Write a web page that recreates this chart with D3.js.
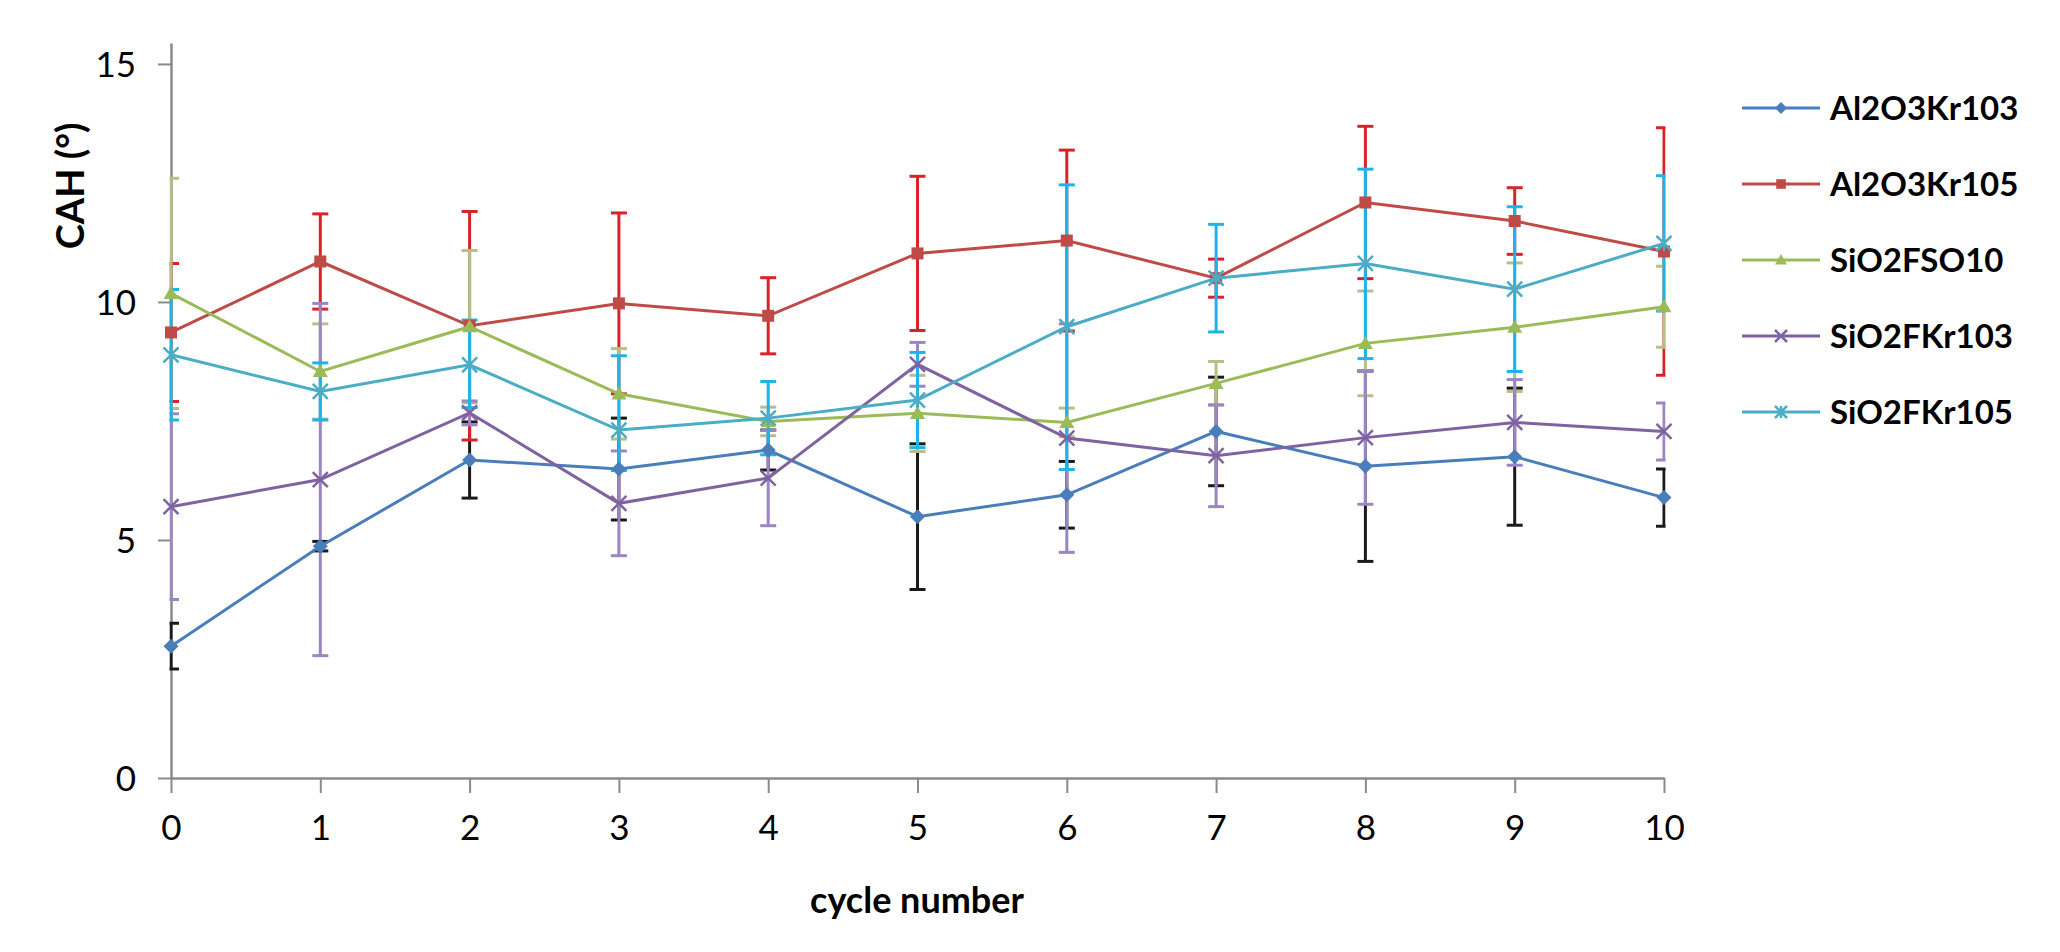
<!DOCTYPE html>
<html>
<head>
<meta charset="utf-8">
<script src="https://cdn.jsdelivr.net/npm/d3@7"></script>
<style>
  body { margin: 0; background: #fff; }
  svg { display: block; }
  text { font-family: Lato, "Noto Sans", sans-serif; fill: #000; }
</style>
</head>
<body>
<svg id="chart" width="2060" height="952"></svg>
<script>
// cycle numbers on the x axis
const cycles = [0, 1, 2, 3, 4, 5, 6, 7, 8, 9, 10];
const yTicks = [0, 5, 10, 15];

// CAH values (deg), with error bar half-widths
const al103 = [2.77, 4.87, 6.68, 6.49, 6.89, 5.49, 5.95, 7.28, 6.55, 6.75, 5.89];
const al103Err = [0.48, 0.1, 0.8, 1.07, 0.42, 1.53, 0.7, 1.14, 2.0, 1.44, 0.6];

const al105 = [9.36, 10.85, 9.5, 9.97, 9.71, 11.02, 11.29, 10.5, 12.09, 11.7, 11.06];
const al105Err = [1.45, 1.0, 2.4, 1.9, 0.8, 1.62, 1.9, 0.4, 1.6, 0.7, 2.6];

const fso10 = [10.18, 8.54, 9.48, 8.07, 7.49, 7.66, 7.47, 8.29, 9.13, 9.47, 9.9];
const fso10Err = [2.42, 1.0, 1.6, 0.95, 0.3, 0.8, 0.3, 0.46, 1.1, 1.35, 0.85];

const fkr103 = [5.7, 6.27, 7.67, 5.77, 6.3, 8.69, 7.14, 6.77, 7.15, 7.47, 7.28];
const fkr103Err = [1.95, 3.7, 0.25, 1.1, 1.0, 0.46, 2.4, 1.07, 1.4, 0.9, 0.6];

const fkr105 = [8.89, 8.12, 8.68, 7.31, 7.56, 7.94, 9.48, 10.5, 10.81, 10.27, 11.23];
const fkr105Err = [1.37, 0.6, 0.94, 1.56, 0.77, 1.0, 2.98, 1.13, 1.98, 1.73, 1.42];
const fkr105ErrLow = [1.37, 0.6, 0.9, 0.85, 0.77, 1.0, 3.0, 1.13, 2.0, 1.73, 1.42];

const seriesNames = ['Al2O3Kr103', 'Al2O3Kr105', 'SiO2FSO10', 'SiO2FKr103', 'SiO2FKr105'];

const series = [
  { name: seriesNames[0], vals: al103, up: al103Err, down: al103Err, color: '#4a7ebb', errColor: '#1a1a1a', marker: 'diamond' },
  { name: seriesNames[1], vals: al105, up: al105Err, down: al105Err, color: '#be4b48', errColor: '#d9232b', marker: 'square' },
  { name: seriesNames[2], vals: fso10, up: fso10Err, down: fso10Err, color: '#9bbb59', errColor: '#b8bf86', marker: 'triangle' },
  { name: seriesNames[3], vals: fkr103, up: fkr103Err, down: fkr103Err, color: '#7f63a1', errColor: '#9a86c2', marker: 'x' },
  { name: seriesNames[4], vals: fkr105, up: fkr105Err, down: fkr105ErrLow, color: '#4bacc6', errColor: '#1db4ea', marker: 'star' }
];

const svg = d3.select('#chart');
const plotL = 171, plotR = 1664, plotB = 778, plotT = 43;

const x = d3.scaleLinear().domain([0, 10]).range([plotL, plotR]);
const y = d3.scaleLinear().domain([0, 15.44]).range([plotB, plotT]);

// axes
const yAxis = svg.append('g')
  .attr('transform', `translate(${plotL},0)`)
  .call(d3.axisLeft(y).tickValues(yTicks).tickSize(13).tickSizeOuter(0).tickPadding(22));
const xAxis = svg.append('g')
  .attr('transform', `translate(0,${plotB})`)
  .call(d3.axisBottom(x).tickValues(cycles).tickSize(15).tickSizeOuter(0).tickPadding(22));

[yAxis, xAxis].forEach(a => {
  a.select('.domain').attr('stroke', '#8a8a8a').attr('stroke-width', 2.5);
  a.selectAll('.tick line').attr('stroke', '#8a8a8a').attr('stroke-width', 2);
  a.selectAll('.tick text').attr('font-size', 35).attr('fill', '#111').style('font-family', 'Lato, sans-serif');
});
yAxis.selectAll('.tick text').attr('dy', '0.36em');

// axis titles
svg.append('text')
  .attr('x', 917).attr('y', 913)
  .attr('text-anchor', 'middle')
  .attr('font-size', 36).attr('font-weight', 'bold')
  .text('cycle number');

svg.append('text')
  .attr('transform', 'translate(84,186) rotate(-90)')
  .attr('text-anchor', 'middle')
  .attr('font-size', 38).attr('font-weight', 'bold')
  .text('CAH (°)');

// clip so the error bars at the ends show half caps like the source
svg.append('clipPath').attr('id', 'plotClip')
  .append('rect')
  .attr('x', plotL - 1.5).attr('y', 0)
  .attr('width', plotR - plotL + 3).attr('height', plotB);

const capW = 8;
const errG = svg.append('g').attr('clip-path', 'url(#plotClip)');
series.forEach(s => {
  const g = errG.append('g')
    .attr('stroke', s.errColor).attr('stroke-width', 3).attr('fill', 'none');
  cycles.forEach((c, i) => {
    const hi = y(s.vals[i] + s.up[i]);
    const lo = y(s.vals[i] - s.down[i]);
    const cx = x(c);
    g.append('line').attr('x1', cx).attr('x2', cx).attr('y1', hi).attr('y2', lo);
    g.append('line').attr('x1', cx - capW).attr('x2', cx + capW).attr('y1', hi).attr('y2', hi);
    g.append('line').attr('x1', cx - capW).attr('x2', cx + capW).attr('y1', lo).attr('y2', lo);
  });
});

function drawMarker(g, type, cx, cy, color, sz) {
  if (type === 'diamond') {
    g.append('path')
      .attr('d', `M${cx},${cy - sz}L${cx + sz},${cy}L${cx},${cy + sz}L${cx - sz},${cy}Z`)
      .attr('fill', color);
  } else if (type === 'square') {
    g.append('rect')
      .attr('x', cx - sz * 0.8).attr('y', cy - sz * 0.8)
      .attr('width', sz * 1.6).attr('height', sz * 1.6)
      .attr('fill', color);
  } else if (type === 'triangle') {
    g.append('path')
      .attr('d', `M${cx},${cy - sz}L${cx + sz},${cy + sz * 0.75}L${cx - sz},${cy + sz * 0.75}Z`)
      .attr('fill', color);
  } else if (type === 'x') {
    g.append('path')
      .attr('d', `M${cx - sz},${cy - sz}L${cx + sz},${cy + sz}M${cx - sz},${cy + sz}L${cx + sz},${cy - sz}`)
      .attr('stroke', color).attr('stroke-width', 2.5);
  } else if (type === 'star') {
    g.append('path')
      .attr('d', `M${cx - sz},${cy - sz}L${cx + sz},${cy + sz}M${cx - sz},${cy + sz}L${cx + sz},${cy - sz}M${cx},${cy - sz}L${cx},${cy + sz}`)
      .attr('stroke', color).attr('stroke-width', 2.5);
  }
}

// lines and markers
const line = d3.line().x((d, i) => x(cycles[i])).y(d => y(d));
series.forEach(s => {
  const g = svg.append('g');
  g.append('path')
    .datum(s.vals)
    .attr('d', line)
    .attr('fill', 'none')
    .attr('stroke', s.color)
    .attr('stroke-width', 3);
  s.vals.forEach((v, i) => drawMarker(g, s.marker, x(cycles[i]), y(v), s.color, 7.5));
});

// legend
const legend = svg.append('g');
series.forEach((s, i) => {
  const ly = 108 + i * 76;
  legend.append('line')
    .attr('x1', 1742).attr('x2', 1820).attr('y1', ly).attr('y2', ly)
    .attr('stroke', s.color).attr('stroke-width', 3);
  drawMarker(legend, s.marker, 1781, ly, s.color, 6);
  legend.append('text')
    .attr('x', 1830).attr('y', ly).attr('dy', '0.36em')
    .attr('font-size', 33).attr('font-weight', 'bold')
    .text(s.name);
});
</script>
</body>
</html>
